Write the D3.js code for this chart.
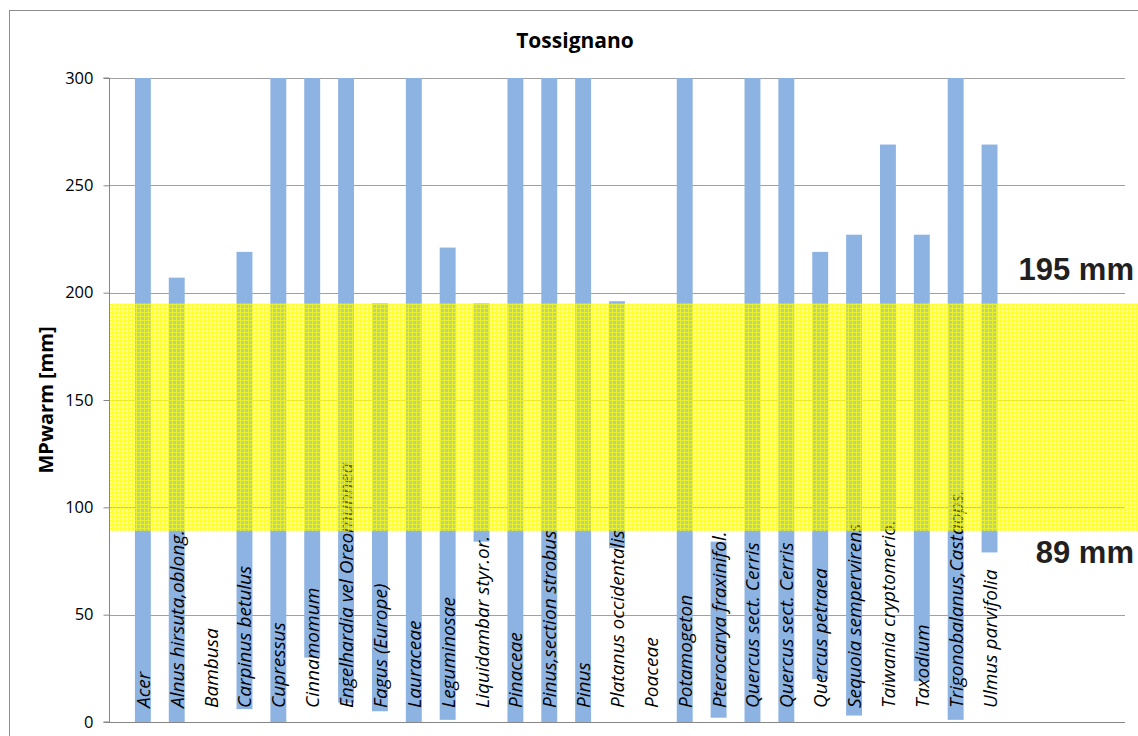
<!DOCTYPE html>
<html>
<head>
<meta charset="utf-8">
<script src="https://cdn.jsdelivr.net/npm/d3@7"></script>
<style>
html,body{margin:0;padding:0;background:#fff;}
svg{display:block;}
</style>
</head>
<body>
<svg id="chart" width="1138" height="736"></svg>
<script>
// ---- data ----
const categories = ["Acer","Alnus hirsuta,oblong.","Bambusa","Carpinus betulus","Cupressus","Cinnamomum",
  "Engelhardia vel Oreomunnea","Fagus (Europe)","Lauraceae","Leguminosae","Liquidambar styr.or.","Pinaceae",
  "Pinus,section strobus","Pinus","Platanus occidentalis","Poaceae","Potamogeton","Pterocarya fraxinifol.",
  "Quercus sect. Cerris","Quercus sect. Cerris ","Quercus petraea","Sequoia sempervirens","Taiwania cryptomerio.",
  "Taxodium","Trigonobalanus,Castaops.","Ulmus parvifolia"];
const lowValues  = [0, 0, null, 6, 0, 30, 9, 5, 0, 1, 84, 0, 0, 0, 81, null, 0, 2, 0, 0, 20, 3, 89, 19, 1, 79];
const highValues = [300, 207, null, 219, 300, 300, 300, 195, 300, 221, 195, 300, 300, 300, 196, null, 300, 84, 300, 300, 219, 227, 269, 227, 300, 269];
const yTicks = [0, 50, 100, 150, 200, 250, 300];
const bandLow = 89, bandHigh = 195;
const title = "Tossignano";
const yTitle = "MPwarm [mm]";

// ---- layout ----
const svg = d3.select("#chart");
const plot = {x0: 109, x1: 1125, y0: 78, y1: 722};
const slots = 30;
const stepPx = (plot.x1 - plot.x0) / slots;

const x = d3.scaleBand().domain(categories)
  .range([plot.x0 + 0.5 * stepPx, plot.x0 + (categories.length + 0.5) * stepPx])
  .paddingInner(0.53).paddingOuter(0.265);
const y = d3.scaleLinear().domain([0, 300]).range([plot.y1, plot.y0]).clamp(true);

// outer frame
svg.append("rect").attr("x", 9.5).attr("y", 10.5).attr("width", 1150).attr("height", 760)
  .attr("fill", "none").attr("stroke", "#8c8c8c").attr("stroke-width", 1);

// defs: pattern for band
const defs = svg.append("defs");
const pat = defs.append("pattern").attr("id", "grid").attr("patternUnits", "userSpaceOnUse")
  .attr("width", 4).attr("height", 4);
pat.append("rect").attr("x", 1).attr("y", 1).attr("width", 3).attr("height", 3).attr("fill", "rgba(255,255,0,0.4)");
pat.append("rect").attr("x", 0).attr("y", 0).attr("width", 4).attr("height", 1).attr("fill", "rgba(255,255,0,0.8)");
pat.append("rect").attr("x", 0).attr("y", 1).attr("width", 1).attr("height", 3).attr("fill", "rgba(255,255,0,0.8)");

// gridlines
svg.append("g").selectAll("line").data(yTicks.filter(d => d > 0)).join("line")
  .attr("x1", plot.x0).attr("x2", plot.x1)
  .attr("y1", d => Math.round(y(d)) + 0.5).attr("y2", d => Math.round(y(d)) + 0.5)
  .attr("stroke", "#a0a0a0").attr("stroke-width", 1);

// y axis
const yAxis = d3.axisLeft(y).tickValues(yTicks).tickSize(6).tickPadding(10).tickFormat(d3.format("d"));
const gy = svg.append("g").attr("transform", `translate(${plot.x0 + 0.5},0)`).call(yAxis);
gy.select(".domain").attr("stroke", "#868686").attr("d", `M-6,${plot.y1}H0V${plot.y0}H-6`);
gy.selectAll(".tick line").attr("stroke", "#868686");
gy.selectAll(".tick text").attr("font-family", "'Open Sans'").attr("font-size", "16.5px").attr("fill", "#000");

// x axis baseline
svg.append("line").attr("x1", plot.x0).attr("x2", plot.x1)
  .attr("y1", plot.y1 + 0.5).attr("y2", plot.y1 + 0.5).attr("stroke", "#868686");

// bars
const barData = categories.map((c, i) => ({c, lo: lowValues[i], hi: highValues[i]})).filter(d => d.lo !== null);
svg.append("g").selectAll("rect").data(barData).join("rect")
  .attr("x", d => x(d.c)).attr("width", x.bandwidth())
  .attr("y", d => y(d.hi)).attr("height", d => y(d.lo) - y(d.hi))
  .attr("fill", "#8db3e2");

// category labels (inside plot, rotated)
const labels = svg.append("g").selectAll("text").data(categories).join("text")
  .attr("font-family", "'Open Sans'").attr("font-style", "italic").attr("font-size", "19px")
  .attr("fill", "#000").attr("text-anchor", "start")
  .text(d => d.trim());
// fit the label width to the reference (Alnus label spans about 178 px)
const refLen = labels.filter(d => d === "Alnus hirsuta,oblong.").node().getComputedTextLength();
const sx = 178 / refLen;
labels.attr("transform", d => `translate(${x(d) + x.bandwidth() / 2 + 7},708) rotate(-90) scale(${sx},1)`);

// band overlay
svg.append("rect").attr("x", plot.x0 + 1).attr("width", 1138 - plot.x0)
  .attr("y", y(bandHigh)).attr("height", y(bandLow) - y(bandHigh))
  .attr("fill", "url(#grid)");

// band labels
svg.append("text").attr("x", 1134).attr("y", 280).attr("text-anchor", "end")
  .attr("font-family", "'Liberation Sans'").attr("font-weight", "bold").attr("font-size", "31px")
  .attr("fill", "#231f20").text(bandHigh + " mm");
svg.append("text").attr("x", 1134).attr("y", 563).attr("text-anchor", "end")
  .attr("font-family", "'Liberation Sans'").attr("font-weight", "bold").attr("font-size", "31px")
  .attr("fill", "#231f20").text(bandLow + " mm");

// title
svg.append("text").attr("x", 575).attr("y", 48).attr("text-anchor", "middle")
  .attr("font-family", "'Open Sans'").attr("font-weight", "bold").attr("font-size", "21px")
  .attr("fill", "#000").text(title);

// y title
svg.append("text").attr("transform", `translate(53,${(plot.y0 + plot.y1) / 2}) rotate(-90)`)
  .attr("text-anchor", "middle")
  .attr("font-family", "'Open Sans'").attr("font-weight", "bold").attr("font-size", "20px")
  .attr("fill", "#000").text(yTitle);
</script>
</body>
</html>
